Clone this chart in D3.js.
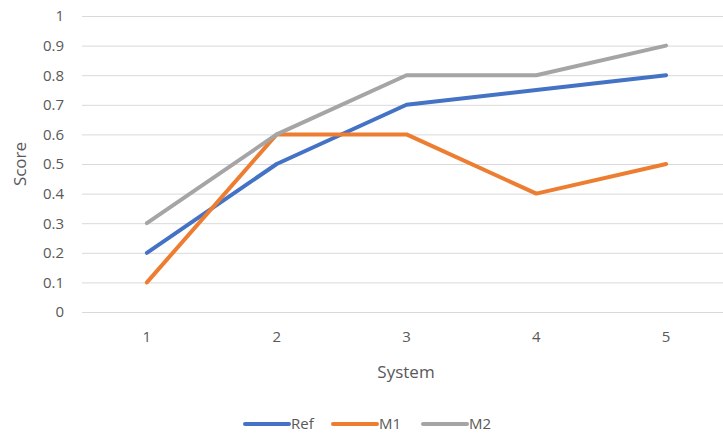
<!DOCTYPE html>
<html><head><meta charset="utf-8">
<script src="https://cdn.jsdelivr.net/npm/d3@7"></script>
<style>body{margin:0;background:#fff}svg{display:block}text{font-family:"Open Sans","Liberation Sans",sans-serif;fill:#595959}</style>
</head><body>
<svg id="c" width="723" height="433"></svg>
<script>
const categories = ["1","2","3","4","5"];
const refValues = [0.2,0.5,0.7,0.75,0.8];
const m1Values = [0.1,0.6,0.6,0.4,0.5];
const m2Values = [0.3,0.6,0.8,0.8,0.9];
const yTicks = [0,0.1,0.2,0.3,0.4,0.5,0.6,0.7,0.8,0.9,1];
const seriesNames = ["Ref","M1","M2"];
const colors = ["#4472C4","#ED7D31","#A5A5A5"];

const svg = d3.select("#c");
const x = d3.scaleBand().domain(categories).range([82,731]);
const y = d3.scaleLinear().domain([0,1]).range([312,16]);

const yAxis = d3.axisLeft(y).tickValues(yTicks).tickSize(-(731-82)).tickPadding(18).tickFormat(d=>String(d));
const gy = svg.append("g").attr("transform","translate(82,0)").call(yAxis);
gy.select(".domain").remove();
gy.selectAll("line").attr("stroke","#D9D9D9").attr("stroke-width",1);
gy.selectAll("text").style("font-size","15px").attr("fill","#595959");

const xAxis = d3.axisBottom(x).tickSize(0).tickPadding(19);
const gx = svg.append("g").attr("transform","translate(0,312)").call(xAxis);
gx.select(".domain").remove();
gx.selectAll("text").style("font-size","15px").attr("fill","#595959");

const series = [refValues,m1Values,m2Values];
const line = d3.line().x((d,i)=>x(categories[i])+x.bandwidth()/2).y(d=>y(d));
series.forEach((s,k)=>{
  svg.append("path").datum(s).attr("d",line).attr("fill","none")
    .attr("stroke",colors[k]).attr("stroke-width",4).attr("stroke-linecap","round").attr("stroke-linejoin","round");
});

svg.append("text").attr("transform","translate(26,164) rotate(-90)").attr("text-anchor","middle").style("font-size","17px").text("Score");
svg.append("text").attr("x",406).attr("y",378).attr("text-anchor","middle").style("font-size","17px").text("System");

const legX = [245,333,423];
seriesNames.forEach((n,k)=>{
  svg.append("line").attr("x1",legX[k]).attr("x2",legX[k]+44).attr("y1",424).attr("y2",424)
    .attr("stroke",colors[k]).attr("stroke-width",4).attr("stroke-linecap","round");
  svg.append("text").attr("x",legX[k]+46).attr("y",429).style("font-size","15px").text(n);
});
</script>
</body></html>
